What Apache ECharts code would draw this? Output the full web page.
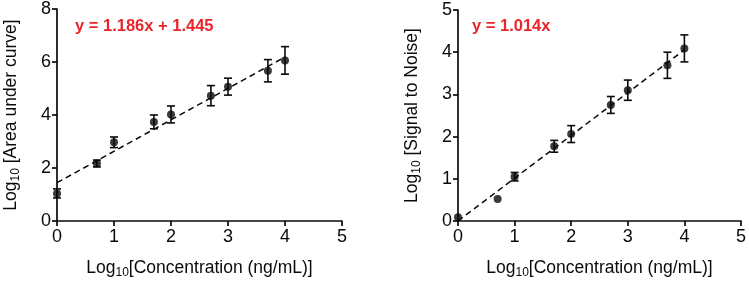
<!DOCTYPE html>
<html>
<head>
<meta charset="utf-8">
<script src="https://cdn.jsdelivr.net/npm/echarts@6/dist/echarts.min.js"></script>
<style>
  html, body { margin: 0; padding: 0; background: #fff; }
  #chart { width: 749px; height: 284px; }
</style>
</head>
<body>
<div id="chart"></div>
<script>
// ---- Data ----
const concLog = [0, 0.7, 1, 1.7, 2, 2.7, 3, 3.7, 4];
const aucMean = [1.04, 2.17, 2.97, 3.74, 4.02, 4.73, 5.07, 5.67, 6.06];
const aucErr  = [0.17, 0.13, 0.20, 0.26, 0.32, 0.38, 0.32, 0.42, 0.52];
const snrMean = [0.09, 0.52, 1.05, 1.77, 2.06, 2.75, 3.10, 3.69, 4.09];
const snrErr  = [0, 0, 0.10, 0.14, 0.20, 0.20, 0.24, 0.31, 0.32];
const fitX = [0, 4];
const aucFitY = [1.445, 6.189];
const snrFitY = [0, 4.056];
const aucEquation = 'y = 1.186x + 1.445';
const snrEquation = 'y = 1.014x';
const xTicks = [0, 1, 2, 3, 4, 5];
const aucTicks = [0, 2, 4, 6, 8];
const snrTicks = [0, 1, 2, 3, 4, 5];

const FONT = '"Liberation Sans", Arial, sans-serif';
const BLACK = '#0a0a0a';
const RED = '#e8262b';

function pts(xs, ys) { return xs.map((x, i) => [x, ys[i]]); }
function errData(xs, ys, es) { return xs.map((x, i) => [x, ys[i] - es[i], ys[i] + es[i]]); }

function errorSeries(idx, data) {
  return {
    type: 'custom', xAxisIndex: idx, yAxisIndex: idx, z: 3,
    data: data.filter(d => d[2] - d[1] > 0),
    renderItem: function (params, api) {
      const x = api.value(0);
      const lo = api.coord([x, api.value(1)]);
      const hi = api.coord([x, api.value(2)]);
      const w = 4;
      const st = { stroke: BLACK, lineWidth: 1.6 };
      return {
        type: 'group',
        children: [
          { type: 'line', shape: { x1: lo[0], y1: lo[1], x2: hi[0], y2: hi[1] }, style: st },
          { type: 'line', shape: { x1: lo[0] - w, y1: lo[1], x2: lo[0] + w, y2: lo[1] }, style: st },
          { type: 'line', shape: { x1: hi[0] - w, y1: hi[1], x2: hi[0] + w, y2: hi[1] }, style: st }
        ]
      };
    }
  };
}

const rich = {
  a: { fontSize: 17.5, fontFamily: FONT, color: BLACK },
  s: { fontSize: 12, fontFamily: FONT, color: BLACK, verticalAlign: 'bottom', padding: [9, 0, 0, 0] }
};

function xAxis(idx) {
  return {
    type: 'value', gridIndex: idx, min: 0, max: 5, interval: 1,
    name: '{a|Log}{s|10}{a|[Concentration (ng/mL)]}',
    nameLocation: 'middle', nameGap: 37,
    nameTextStyle: { rich: rich },
    axisLine: { lineStyle: { color: BLACK, width: 1.7 } },
    axisTick: { show: true, length: 5, lineStyle: { color: BLACK, width: 1.7 } },
    axisLabel: { fontSize: 18, fontFamily: FONT, color: BLACK, margin: 7,
      formatter: v => xTicks.includes(v) ? String(v) : '' },
    splitLine: { show: false }
  };
}

function yAxis(idx, max, interval, name, ticks) {
  return {
    type: 'value', gridIndex: idx, min: 0, max: max, interval: interval,
    name: name, nameLocation: 'middle', nameGap: 35, nameRotate: 90,
    nameTextStyle: { rich: rich },
    axisLine: { show: true, lineStyle: { color: BLACK, width: 1.7 } },
    axisTick: { show: true, length: 5, lineStyle: { color: BLACK, width: 1.7 } },
    axisLabel: { fontSize: 18, fontFamily: FONT, color: BLACK, margin: 6,
      formatter: v => ticks.includes(v) ? String(v) : '' },
    splitLine: { show: false }
  };
}

const chart = echarts.init(document.getElementById('chart'), null, { renderer: 'canvas' });
chart.setOption({
  backgroundColor: '#fff',
  animation: false,
  grid: [
    { left: 57, right: 407, top: 9, bottom: 59, containLabel: false },
    { left: 458, right: 6, top: 10, bottom: 57, containLabel: false }
  ],
  xAxis: [xAxis(0), xAxis(1)],
  yAxis: [
    yAxis(0, 8, 2, '{a|Log}{s|10}{a| [Area under curve]}', aucTicks),
    yAxis(1, 5, 1, '{a|Log}{s|10}{a| [Signal to Noise]}', snrTicks)
  ],
  graphic: [
    { type: 'text', left: 75, top: 18, style: { text: aucEquation, fill: RED, font: 'bold 16.5px ' + FONT } },
    { type: 'text', left: 472, top: 18, style: { text: snrEquation, fill: RED, font: 'bold 16.5px ' + FONT } }
  ],
  series: [
    { type: 'line', xAxisIndex: 0, yAxisIndex: 0, data: pts(fitX, aucFitY), symbol: 'none', z: 2,
      lineStyle: { color: BLACK, width: 1.5, type: [6, 4] } },
    { type: 'line', xAxisIndex: 1, yAxisIndex: 1, data: pts(fitX, snrFitY), symbol: 'none', z: 2,
      lineStyle: { color: BLACK, width: 1.5, type: [6, 4] } },
    errorSeries(0, errData(concLog, aucMean, aucErr)),
    errorSeries(1, errData(concLog, snrMean, snrErr)),
    { type: 'scatter', xAxisIndex: 0, yAxisIndex: 0, data: pts(concLog, aucMean), symbol: 'circle', symbolSize: 8, z: 4,
      itemStyle: { color: BLACK } },
    { type: 'scatter', xAxisIndex: 1, yAxisIndex: 1, data: pts(concLog, snrMean), symbol: 'circle', symbolSize: 8, z: 4,
      itemStyle: { color: BLACK } }
  ]
});
</script>
</body>
</html>
